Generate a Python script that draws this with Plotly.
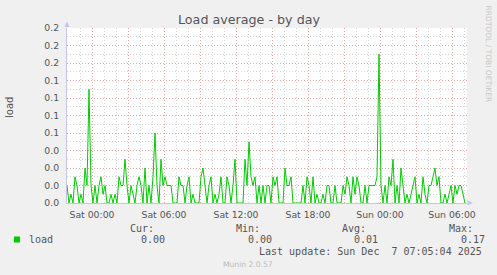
import plotly.graph_objects as go
import pandas as pd

# ---- data (load average, 10-minute samples) ----
load_values = [
    0.02, 0, 0.01, 0, 0.03, 0.02, 0, 0.01, 0, 0.04,
    0.02, 0.13, 0.02, 0, 0.02, 0, 0.02, 0.03, 0.01, 0.02,
    0, 0, 0.01, 0, 0.01, 0, 0.03, 0.02, 0.02, 0.05,
    0.02, 0, 0.02, 0.01, 0, 0.02, 0.03, 0.02, 0, 0.04,
    0, 0.02, 0, 0.03, 0.08, 0.02, 0, 0.05, 0.02, 0.03,
    0.02, 0.02, 0.02, 0, 0, 0, 0.03, 0.02, 0.02, 0,
    0.02, 0.03, 0, 0.01, 0, 0, 0, 0.03, 0.04, 0.02,
    0, 0.02, 0.03, 0, 0.01, 0, 0.01, 0.03, 0, 0,
    0.03, 0.02, 0, 0.02, 0.05, 0, 0, 0, 0, 0.05,
    0.02, 0.07, 0.03, 0.02, 0.03, 0, 0.02, 0, 0.02, 0,
    0.02, 0.02, 0, 0.03, 0.02, 0.03, 0, 0, 0, 0.04,
    0.02, 0.02, 0.03, 0, 0, 0, 0, 0, 0.02, 0,
    0.03, 0.02, 0, 0.03, 0, 0.01, 0, 0, 0.01, 0,
    0.02, 0.02, 0, 0, 0.02, 0, 0, 0, 0.02, 0.01,
    0.03, 0.02, 0, 0.03, 0.01, 0.03, 0.02, 0, 0, 0.02,
    0, 0.02, 0.02, 0.02, 0.02, 0.03, 0.17, 0.02, 0, 0.02,
    0, 0.03, 0.02, 0.05, 0, 0.02, 0, 0.04, 0.02, 0,
    0.01, 0, 0.01, 0.02, 0.03, 0, 0.01, 0, 0.03, 0.01,
    0, 0.02, 0.02, 0.03, 0.04, 0.02, 0.03, 0, 0, 0.01,
    0, 0.01, 0.02, 0, 0.02, 0.01, 0.02, 0.02, 0.01, 0,
]
start_time = "2025-12-05 21:55"
sample_step = "10min"
x_range = ["2025-12-05 21:55", "2025-12-07 07:15"]

y_tick_values = [0.00, 0.02, 0.04, 0.06, 0.08, 0.10, 0.12, 0.14, 0.16, 0.18, 0.20]
y_tick_labels = ["0.0", "0.0", "0.0", "0.0", "0.1", "0.1", "0.1", "0.1", "0.2", "0.2", "0.2"]
x_tick_values = list(pd.date_range("2025-12-06 00:00", "2025-12-07 06:00", freq="3h"))
x_tick_labels = ["Sat 00:00", "", "Sat 06:00", "", "Sat 12:00", "", "Sat 18:00", "",
                 "Sun 00:00", "", "Sun 06:00"]

series_name = "load"
stats_headers = ["Cur:", "Min:", "Avg:", "Max:"]
stats_values = ["0.00", "0.00", "0.01", "0.17"]
last_update = "Last update: Sun Dec \u00a07 07:05:04 2025"

times = pd.date_range(start_time, periods=len(load_values), freq=sample_step)

# ---- layout geometry ----
W, H = 497, 275
L, R, T, B = 67, 30, 28, 72
PW, PH = W - L - R, H - T - B


def px(x):
    return (x - L) / PW


def py(y):
    return (H - B - y) / PH


TXT = "#555555"
MAJOR = "#E8A3A3"
MINOR = "#D6D6D6"
AXIS = "#C4C4EE"
GREEN = "#00CC00"

fig = go.Figure()
fig.add_trace(go.Scatter(x=times, y=load_values, mode="lines",
                         line=dict(color=GREEN, width=1), name=series_name,
                         showlegend=False, hoverinfo="skip"))

fig.update_layout(
    width=W, height=H,
    margin=dict(l=L, r=R, t=T, b=B, pad=0),
    paper_bgcolor="#F0F0F0", plot_bgcolor="#FFFFFF",
    font=dict(family="DejaVu Sans", size=9.3, color=TXT),
    showlegend=False,
)
fig.update_xaxes(
    type="date", range=x_range,
    tickmode="array", tickvals=x_tick_values, ticktext=x_tick_labels,
    ticks="outside", ticklen=3, tickcolor="rgba(0,0,0,0)",
    showgrid=True, gridcolor=MAJOR, griddash="1px,2px", gridwidth=1,
    minor=dict(tick0="2025-12-06 00:00", dtick=3600000, showgrid=True,
               gridcolor=MINOR, griddash="1px,2px", ticks=""),
    showline=True, linecolor=AXIS, linewidth=1, zeroline=False,
    tickfont=dict(size=9.3, color=TXT),
)
fig.update_yaxes(
    range=[0, 0.2],
    tickmode="array", tickvals=y_tick_values, ticktext=y_tick_labels,
    ticks="outside", ticklen=5, tickcolor="rgba(0,0,0,0)",
    showgrid=True, gridcolor=MAJOR, griddash="1px,2px", gridwidth=1,
    minor=dict(dtick=0.01, showgrid=True, gridcolor=MINOR, griddash="1px,2px", ticks=""),
    showline=True, linecolor=AXIS, linewidth=1, zeroline=False,
    tickfont=dict(size=9.3, color=TXT),
)

ann = []
ann.append(dict(text="Load average - by day", x=248.5 / W, y=1 - 20 / H,
                xref="paper", yref="paper", showarrow=False,
                xanchor="center", yanchor="middle",
                font=dict(size=12.7, color=TXT)))
# fix title position using pixel helpers
ann[-1].update(x=px(248.5), y=py(20))
ann.append(dict(text="load", x=px(9), y=py(108), textangle=-90,
                xref="paper", yref="paper", showarrow=False,
                xanchor="center", yanchor="middle", font=dict(size=10, color=TXT)))
ann.append(dict(text="RRDTOOL / TOBI OETIKER", x=px(488.5), y=py(54), textangle=90,
                xref="paper", yref="paper", showarrow=False,
                xanchor="center", yanchor="middle", font=dict(size=7.5, color="#C8C8C8")))

mono = dict(family="DejaVu Sans Mono", size=10, color=TXT)
ann.append(dict(text=series_name, x=px(26.5), y=py(239.5), xref="paper", yref="paper",
                showarrow=False, xanchor="left", yanchor="middle", font=mono))
head_x = [127.7, 234, 340, 447]
val_x = [139, 246, 352, 458.5]
for hx, hv, vx, vv in zip(head_x, stats_headers, val_x, stats_values):
    ann.append(dict(text=hv, x=px(hx), y=py(228.3), xref="paper", yref="paper",
                    showarrow=False, xanchor="left", yanchor="middle", font=mono))
    ann.append(dict(text=vv, x=px(vx), y=py(239.5), xref="paper", yref="paper",
                    showarrow=False, xanchor="left", yanchor="middle", font=mono))
ann.append(dict(text=last_update, x=px(483.5), y=py(251), xref="paper", yref="paper",
                showarrow=False, xanchor="right", yanchor="middle", font=mono))
ann.append(dict(text="Munin 2.0.57", x=px(248), y=py(264.3), xref="paper", yref="paper",
                showarrow=False, xanchor="center", yanchor="middle",
                font=dict(family="DejaVu Sans", size=7.6, color="#BBBBBB")))
fig.update_layout(annotations=ann)

shapes = []
# axis arrows
shapes.append(dict(type="path", xref="paper", yref="paper",
                   path=f"M {px(64.5)} {py(27)} L {px(69.5)} {py(27)} L {px(67)} {py(21.5)} Z",
                   fillcolor=AXIS, line=dict(width=0)))
shapes.append(dict(type="path", xref="paper", yref="paper",
                   path=f"M {px(467.5)} {py(200.5)} L {px(467.5)} {py(205.5)} L {px(473)} {py(203)} Z",
                   fillcolor=AXIS, line=dict(width=0)))
# legend swatch
shapes.append(dict(type="rect", xref="paper", yref="paper",
                   x0=px(14), x1=px(20), y0=py(242.5), y1=py(236.5),
                   fillcolor=GREEN, line=dict(width=0)))
fig.update_layout(shapes=shapes)

fig.write_html("out.html")
